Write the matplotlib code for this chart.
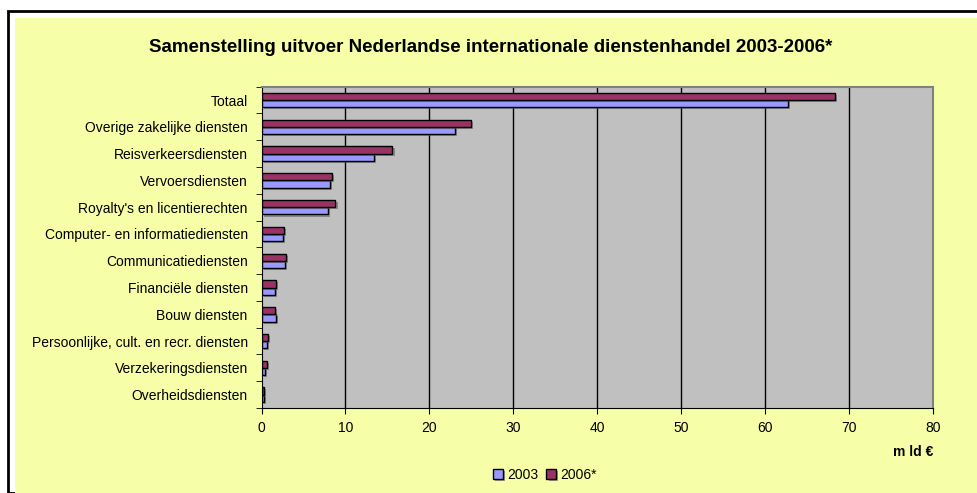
import numpy as np
import matplotlib.pyplot as plt
from matplotlib.patches import Rectangle
import matplotlib.patheffects as pe

plt.rcParams['font.family'] = ['Liberation Sans', 'DejaVu Sans']

# categories, top to bottom
categories = ['Totaal', 'Overige zakelijke diensten', 'Reisverkeersdiensten',
              'Vervoersdiensten', "Royalty's en licentierechten",
              'Computer- en informatiediensten', 'Communicatiediensten',
              'Financiële diensten', 'Bouw diensten',
              'Persoonlijke, cult. en recr. diensten', 'Verzekeringsdiensten',
              'Overheidsdiensten']
values_2003 = [62.8, 23.1, 13.4, 8.2, 7.95, 2.5, 2.8, 1.6, 1.75, 0.65, 0.45, 0.3]
values_2006 = [68.3, 25.0, 15.6, 8.35, 8.8, 2.65, 2.95, 1.7, 1.6, 0.75, 0.65, 0.3]
xticks = [0, 10, 20, 30, 40, 50, 60, 70, 80]

fig = plt.figure(figsize=(9.77, 4.93), dpi=100)
fig.patch.set_facecolor('white')

W, H = 977.0, 493.0
# outer black frame and yellow chart area
fig.patches.append(Rectangle((8 / W, 0), 1.0, 1 - 11 / H, transform=fig.transFigure,
                             facecolor='white', edgecolor='black', linewidth=2, zorder=-2))
fig.patches.append(Rectangle((15 / W, 0), 1.0, 1 - 18 / H, transform=fig.transFigure,
                             facecolor='#F6FFA8', edgecolor='none', zorder=-1))

ax = fig.add_axes([261.6 / W, 1 - 408 / H, (932.7 - 261.6) / W, (408 - 86.7) / H])
ax.set_facecolor('#C0C0C0')

n = len(categories)
y = np.arange(n)[::-1]
h = 0.27
shadow = [pe.SimplePatchShadow(offset=(1.5, -1.5), shadow_rgbFace='#606060', alpha=0.6), pe.Normal()]
b1 = ax.barh(y - h / 2, values_2003, height=h, color='#9999FF', edgecolor='black',
             linewidth=1, label='2003', zorder=3)
b2 = ax.barh(y + h / 2, values_2006, height=h, color='#993366', edgecolor='black',
             linewidth=1, label='2006*', zorder=3)
for b in list(b1) + list(b2):
    b.set_path_effects(shadow)

ax.set_xlim(0, 80)
ax.set_ylim(-0.5, n - 0.5)
ax.set_xticks(xticks)
ax.set_xticklabels([str(t) for t in xticks], fontsize=10)
ax.set_yticks(y)
ax.set_yticklabels(categories, fontsize=10)
ax.set_yticks(np.arange(-0.5, n, 1.0), minor=True)
ax.tick_params(axis='y', which='major', length=0, pad=10)
ax.tick_params(axis='y', which='minor', length=4, direction='out', color='black')
ax.tick_params(axis='x', length=4, direction='out', color='black', pad=5)

for t in xticks[1:-1]:
    ax.axvline(t, color='black', linewidth=1, zorder=1)

for side in ['top', 'right']:
    ax.spines[side].set_color('#808080')
    ax.spines[side].set_linewidth(1.5)
ax.spines['left'].set_color('black')
ax.spines['bottom'].set_color('black')

fig.text(491 / W, 1 - 47 / H,
         'Samenstelling uitvoer Nederlandse internationale dienstenhandel 2003-2006*',
         ha='center', va='center', fontsize=13.5, fontweight='bold')
fig.text(933 / W, 1 - 452 / H, 'm ld €', ha='right', va='center', fontsize=10,
         fontweight='bold')

leg = fig.legend(handles=[b1, b2], labels=['2003', '2006*'], loc='center',
                 bbox_to_anchor=(545 / W, 1 - 475 / H), ncol=2, frameon=False,
                 fontsize=10, handlelength=0.7, handleheight=0.7, handletextpad=0.3,
                 columnspacing=0.6)

fig.savefig('out.png', dpi=100)
